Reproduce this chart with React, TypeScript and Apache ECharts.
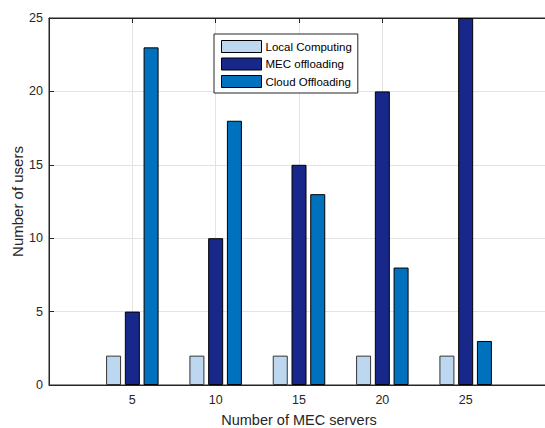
import React, { useEffect, useRef } from "react";
import * as echarts from "echarts";

const xTicks = ["0", "5", "10", "15", "20", "25", "30"];
const categories = ["5", "10", "15", "20", "25"];
const localComputing = [2, 2, 2, 2, 2];
const mecOffloading = [5, 10, 15, 20, 25];
const cloudOffloading = [23, 18, 13, 8, 3];
const yTicks = [0, 5, 10, 15, 20, 25];

const FONT = "'Liberation Sans', Arial, Helvetica, sans-serif";
const AXIS = "#262626";

function pad(values: number[]): (number | string)[] {
  return xTicks.map((t) => {
    const i = categories.indexOf(t);
    return i >= 0 ? values[i] : "-";
  });
}

export default function App() {
  const ref = useRef<HTMLDivElement>(null);
  useEffect(() => {
    if (!ref.current) return;
    const chart = echarts.init(ref.current, undefined, { renderer: "svg" });
    const barBase = {
      type: "bar" as const,
      barWidth: 15,
      barGap: "25%",
    };
    chart.setOption({
      animation: false,
      backgroundColor: "#fff",
      textStyle: { fontFamily: FONT },
      grid: {
        left: 49,
        top: 18,
        right: -4,
        bottom: 43,
        show: true,
        borderColor: AXIS,
        borderWidth: 1,
        backgroundColor: "transparent",
        containLabel: false,
        outerBoundsMode: "none",
      },
      legend: {
        orient: "vertical",
        left: 214,
        top: 34,
        itemWidth: 40,
        itemHeight: 12,
        itemGap: 4.5,
        padding: [6, 6, 5, 7],
        borderColor: AXIS,
        borderWidth: 1,
        backgroundColor: "#fff",
        icon: "rect",
        itemStyle: { borderColor: "#000", borderWidth: 1 },
        textStyle: { fontSize: 11.5, color: "#000", fontFamily: FONT, padding: [0, 0, 0, -1] },
        data: ["Local Computing", "MEC offloading", "Cloud Offloading"],
      },
      xAxis: [
        {
          type: "category",
          data: xTicks,
          boundaryGap: false,
          name: "Number of MEC servers",
          nameLocation: "middle",
          nameGap: 27,
          nameMoveOverlap: false,
          nameTextStyle: { fontSize: 14.5, color: AXIS, fontFamily: FONT },
          axisLine: { show: true, lineStyle: { color: AXIS, width: 1 } },
          axisTick: { show: true, inside: true, length: 5, lineStyle: { color: AXIS } },
          axisLabel: {
            fontSize: 12.5,
            color: AXIS,
            margin: 8,
            fontFamily: FONT,
            formatter: (v: string, i: number) => (i === 0 || i === xTicks.length - 1 ? "" : v),
          },
          splitLine: { show: true, lineStyle: { color: "#e3e3e3", width: 1 } },
        },
        {
          type: "category",
          data: xTicks,
          boundaryGap: false,
          position: "top",
          axisLine: { show: true, lineStyle: { color: AXIS, width: 1 } },
          axisTick: { show: true, inside: true, length: 5, lineStyle: { color: AXIS } },
          axisLabel: { show: false },
          splitLine: { show: false },
        },
      ],
      yAxis: {
        type: "value",
        min: yTicks[0],
        max: yTicks[yTicks.length - 1],
        interval: 5,
        name: "Number of users",
        nameLocation: "middle",
        nameGap: 24,
        nameMoveOverlap: false,
        nameTextStyle: { fontSize: 15, color: AXIS, fontFamily: FONT },
        axisLine: { show: true, lineStyle: { color: AXIS, width: 1 } },
        axisTick: { show: true, inside: true, length: 5, lineStyle: { color: AXIS } },
        axisLabel: { fontSize: 12.5, color: AXIS, margin: 6, fontFamily: FONT },
        splitLine: { show: true, lineStyle: { color: "#e3e3e3", width: 1 } },
      },
      series: [
        {
          ...barBase,
          name: "Local Computing",
          data: pad(localComputing),
          itemStyle: { color: "#bdd7f0", borderColor: "#333", borderWidth: 1 },
        },
        {
          ...barBase,
          name: "MEC offloading",
          data: pad(mecOffloading),
          itemStyle: { color: "#17288a", borderColor: "#000", borderWidth: 1 },
        },
        {
          ...barBase,
          name: "Cloud Offloading",
          data: pad(cloudOffloading),
          itemStyle: { color: "#0072bd", borderColor: "#000", borderWidth: 1 },
        },
      ],
    });
    return () => chart.dispose();
  }, []);
  return (
    <div
      ref={ref}
      style={{ position: "fixed", left: 0, top: 0, width: 545, height: 428, overflow: "hidden" }}
    />
  );
}
